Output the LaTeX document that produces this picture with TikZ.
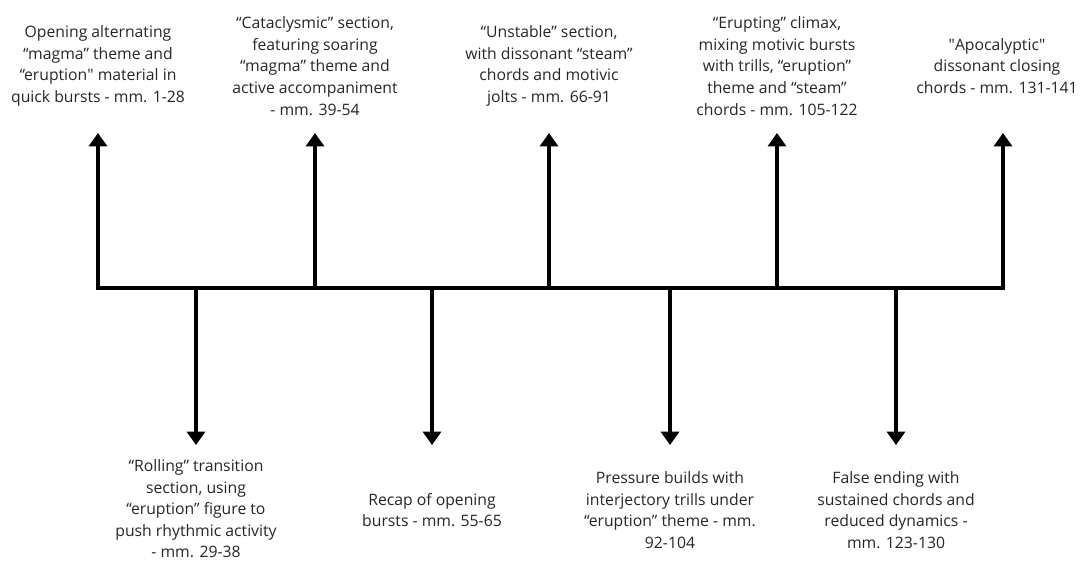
\documentclass[tikz,border=0pt]{standalone}
\usepackage{fontspec}
\setmainfont{Open Sans}
\usepackage{tikz}
\usetikzlibrary{positioning,calc,arrows.meta}

\tikzset{
    stage/.style={align=center, font=\fontsize{11.2}{15.4}\selectfont, text=black!85, inner sep=0pt},
    timeline/.style={line width=2.85pt, -{Triangle[width=12.8pt,length=9.5pt]}},
}

\begin{document}
\begin{tikzpicture}
    \useasboundingbox (0,7.2) rectangle (27.225,-6.875);

    % Points on the time line
    \coordinate (b1) at (2.45,0);
    \coordinate (b2) at (4.9,0);
    \coordinate (b3) at (7.875,0);
    \coordinate (b4) at (10.8,0);
    \coordinate (b5) at (13.725,0);
    \coordinate (b6) at (16.75,0);
    \coordinate (b7) at (19.425,0);
    \coordinate (b8) at (22.4,0);
    \coordinate (b9) at (25.075,0);

    % Arrow tips
    \coordinate (t1) at (2.45,3.875);
    \coordinate (t2) at (4.9,-3.925);
    \coordinate (t3) at (7.875,3.875);
    \coordinate (t4) at (10.8,-3.925);
    \coordinate (t5) at (13.725,3.875);
    \coordinate (t6) at (16.75,-3.925);
    \coordinate (t7) at (19.425,3.875);
    \coordinate (t8) at (22.4,-3.925);
    \coordinate (t9) at (25.075,3.875);

    % Main line with both end arrows
    \draw[timeline, {Triangle[width=12.8pt,length=9.5pt]}-{Triangle[width=12.8pt,length=9.5pt]}]
        (t1) -- (b1) -- (b9) -- (t9);

    % Up and down arrows
    \draw[timeline] (b3) -- (t3);
    \draw[timeline] (b5) -- (t5);
    \draw[timeline] (b7) -- (t7);
    \draw[timeline] (b2) -- (t2);
    \draw[timeline] (b4) -- (t4);
    \draw[timeline] (b6) -- (t6);
    \draw[timeline] (b8) -- (t8);

    % Upper labels
    \node[stage] (opening) at (2.45,5.55) {Opening alternating\\“magma” theme and\\“eruption\textquotedbl{} material in\\quick bursts - mm. 1-28};
    \node[stage] (cataclysm) at (7.875,5.55) {“Cataclysmic” section,\\featuring soaring\\“magma” theme and\\active accompaniment\\- mm. 39-54};
    \node[stage] (unstable) at (13.725,5.55) {“Unstable” section,\\with dissonant “steam”\\chords and motivic\\jolts - mm. 66-91};
    \node[stage] (erupting) at (19.425,5.55) {“Erupting” climax,\\mixing motivic bursts\\with trills, “eruption”\\theme and “steam”\\chords - mm. 105-122};
    \node[stage] (apocalypse) at (24.925,5.55) {\textquotedbl Apocalyptic\textquotedbl\\dissonant closing\\chords - mm. 131-141};

    % Lower labels
    \node[stage] (rolling) at (4.9,-5.52) {“Rolling” transition\\section, using\\“eruption” figure to\\push rhythmic activity\\- mm. 29-38};
    \node[stage] (recap) at (10.8,-5.55) {Recap of opening\\bursts - mm. 55-65};
    \node[stage] (pressure) at (16.75,-5.55) {Pressure builds with\\interjectory trills under\\“eruption” theme - mm.\\92-104};
    \node[stage] (falseend) at (22.4,-5.55) {False ending with\\sustained chords and\\reduced dynamics -\\mm. 123-130};

\end{tikzpicture}
\end{document}
